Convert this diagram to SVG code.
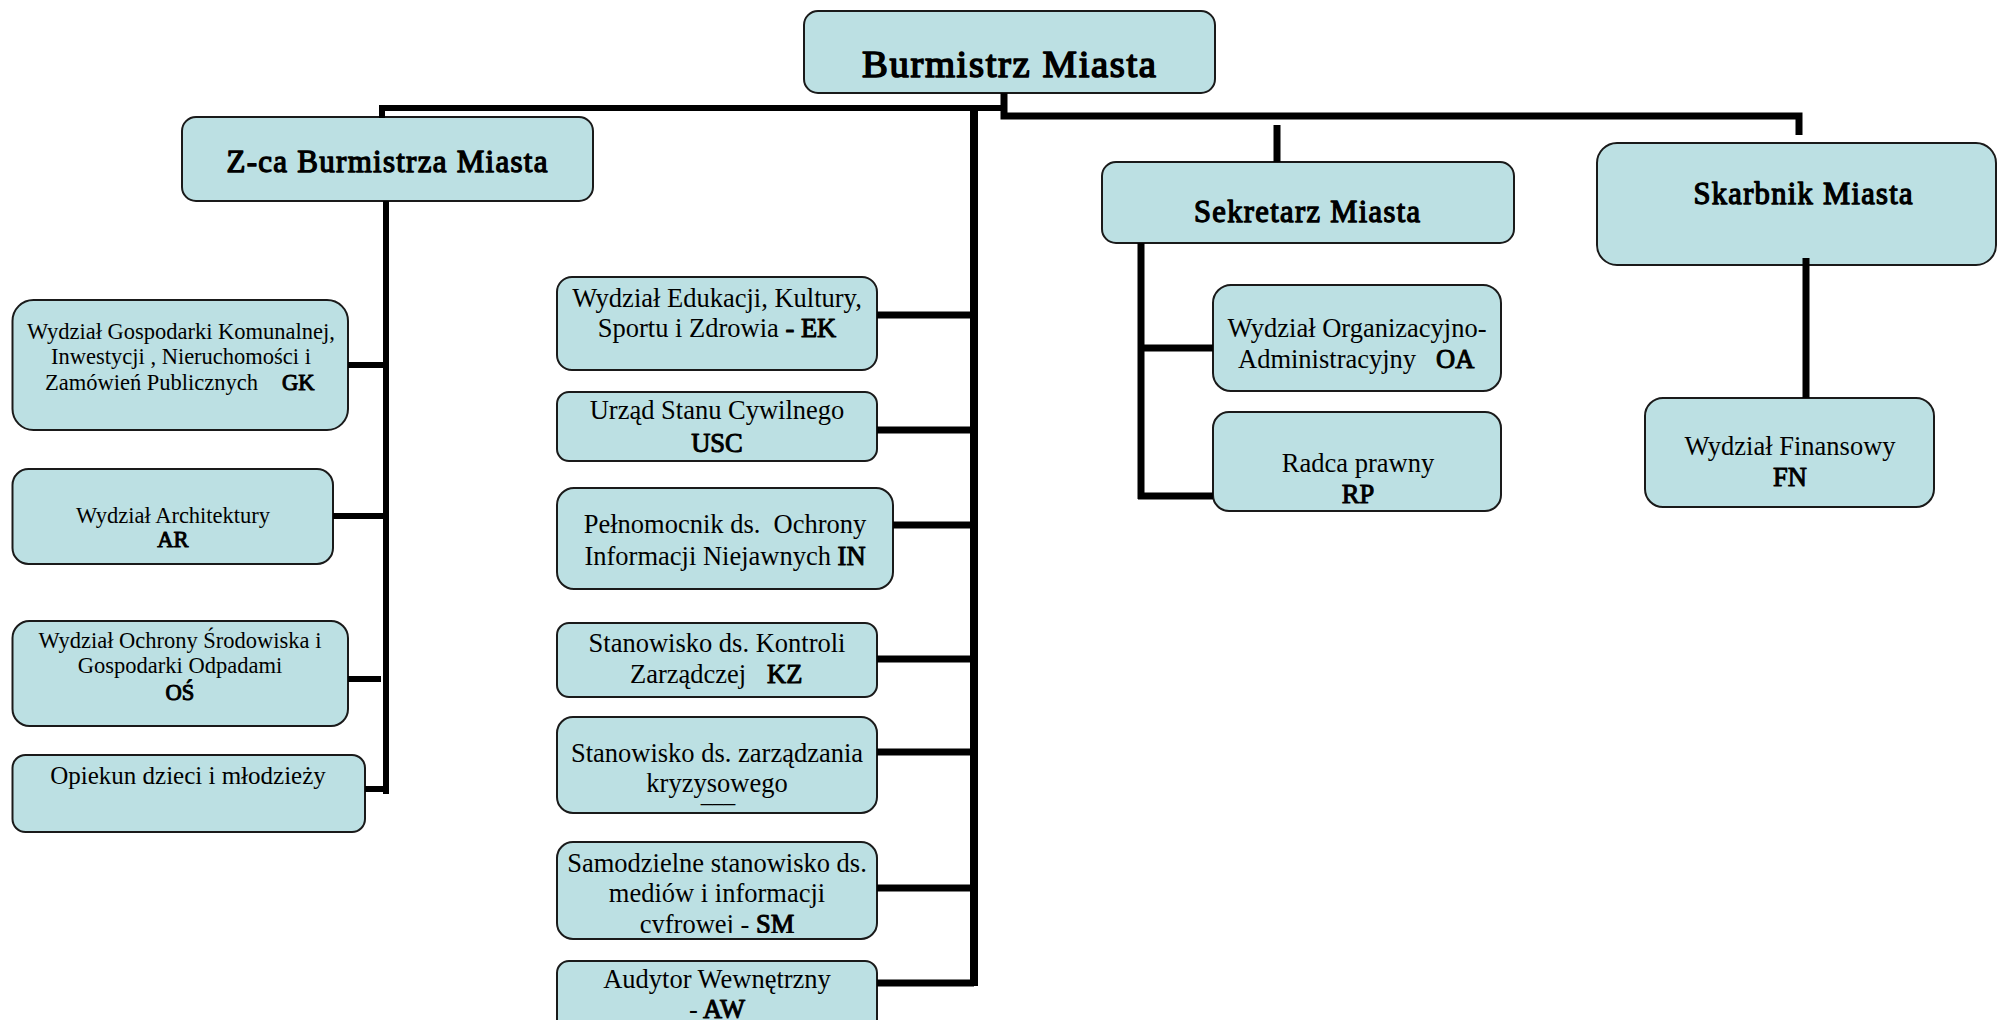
<svg xmlns="http://www.w3.org/2000/svg" width="1997" height="1020" viewBox="0 0 1997 1020">
<style>
.box{fill:#bce0e3;stroke:#1a1a1a;stroke-width:2}
.t{font-family:"Liberation Serif","Times New Roman",serif;fill:#000}
.c{text-anchor:middle}
.b{stroke:#000;stroke-width:1px;stroke-linejoin:round}
.h1{stroke:#000;stroke-width:1.6px;stroke-linejoin:round}
.h2{stroke:#000;stroke-width:1.3px;stroke-linejoin:round}
.s22{font-size:22.5px}
.s25{font-size:25px}
.s26{font-size:26.5px}
.ln{fill:none;stroke:#000;stroke-linecap:butt;stroke-linejoin:miter}
</style>
<defs>
<clipPath id="clipSM"><rect x="557" y="842" width="320" height="91"/></clipPath>
</defs>
<rect width="1997" height="1020" fill="#fff"/>

<g id="burmistrz">
<rect class="box" x="804" y="11" width="411" height="82" rx="14"/>
<text class="t c h1" x="1009" y="77" font-size="38.7" textLength="294" lengthAdjust="spacing">Burmistrz Miasta</text>
</g>

<g id="zca">
<rect class="box" x="182" y="117" width="411" height="84" rx="14"/>
<text class="t c h2" x="387" y="172" font-size="31" textLength="321" lengthAdjust="spacing">Z-ca Burmistrza Miasta</text>
</g>

<g id="sekretarz">
<rect class="box" x="1102" y="162" width="412" height="81" rx="14"/>
<text class="t c h2" x="1307" y="222" font-size="30.5" textLength="226" lengthAdjust="spacing">Sekretarz Miasta</text>
</g>

<g id="skarbnik">
<rect class="box" x="1597" y="143" width="399" height="122" rx="20"/>
<text class="t c h2" x="1803" y="204" font-size="30.5" textLength="219" lengthAdjust="spacing">Skarbnik Miasta</text>
</g>

<g id="gk">
<rect class="box" x="12.5" y="300" width="335.5" height="130" rx="21"/>
<text class="t c s22" x="181" y="339">Wydział Gospodarki Komunalnej,</text>
<text class="t c s22" x="181" y="364">Inwestycji , Nieruchomości i</text>
<text class="t s22" y="390"><tspan x="45">Zamówień Publicznych</tspan><tspan x="282" class="b">GK</tspan></text>
</g>

<g id="ar">
<rect class="box" x="12.5" y="469" width="320.5" height="95" rx="16"/>
<text class="t c s22" x="173" y="523">Wydział Architektury</text>
<text class="t c s22 b" x="173" y="547">AR</text>
</g>

<g id="os">
<rect class="box" x="12.5" y="621" width="335.5" height="105" rx="17"/>
<text class="t c s22" x="180" y="648">Wydział Ochrony Środowiska i</text>
<text class="t c s22" x="180" y="673">Gospodarki Odpadami</text>
<text class="t c s22 b" x="180" y="700">OŚ</text>
</g>

<g id="opiekun">
<rect class="box" x="12.5" y="755" width="352.5" height="77" rx="13"/>
<text class="t c s25" x="188" y="784">Opiekun dzieci i młodzieży</text>
</g>

<g id="ek">
<rect class="box" x="557" y="277" width="320" height="93" rx="15"/>
<text class="t c s26" x="717" y="307">Wydział Edukacji, Kultury,</text>
<text class="t c s26" x="717" y="337">Sportu i Zdrowia <tspan class="b">- EK</tspan></text>
</g>

<g id="usc">
<rect class="box" x="557" y="392" width="320" height="69" rx="12"/>
<text class="t c s26" x="717" y="419">Urząd Stanu Cywilnego</text>
<text class="t c s26 b" x="717" y="452">USC</text>
</g>

<g id="in">
<rect class="box" x="557" y="488" width="336" height="101" rx="17"/>
<text class="t c s26" x="725" y="533" xml:space="preserve">Pełnomocnik ds.  Ochrony</text>
<text class="t c s26" x="725" y="565">Informacji Niejawnych <tspan class="b">IN</tspan></text>
</g>

<g id="kz">
<rect class="box" x="557" y="623" width="320" height="74" rx="12"/>
<text class="t c s26" x="717" y="652">Stanowisko ds. Kontroli</text>
<text class="t s26" y="683"><tspan x="630">Zarządczej</tspan><tspan x="767" class="b">KZ</tspan></text>
</g>

<g id="kryzys">
<rect class="box" x="557" y="717" width="320" height="96" rx="16"/>
<text class="t c s26" x="717" y="762">Stanowisko ds. zarządzania</text>
<text class="t c s26" x="717" y="792">kryzysowego</text>
<text class="t c" x="718" y="802" font-size="23">___</text>
</g>

<g id="sm">
<rect class="box" x="557" y="842" width="320" height="97" rx="16"/>
<g clip-path="url(#clipSM)">
<text class="t c s26" x="717" y="872">Samodzielne stanowisko ds.</text>
<text class="t c s26" x="717" y="902">mediów i informacji</text>
<text class="t c s26" x="717" y="933">cyfrowej - <tspan class="b">SM</tspan></text>
</g>
</g>

<g id="aw">
<rect class="box" x="557" y="961" width="320" height="80" rx="12"/>
<text class="t c s26" x="717" y="988">Audytor Wewnętrzny</text>
<text class="t c s26" x="717" y="1018">- <tspan class="b">AW</tspan></text>
</g>

<g id="oa">
<rect class="box" x="1213" y="285" width="288" height="106" rx="18"/>
<text class="t c s26" x="1357" y="337">Wydział Organizacyjno-</text>
<text class="t s26" y="368"><tspan x="1238">Administracyjny</tspan><tspan x="1436" class="b">OA</tspan></text>
</g>

<g id="rp">
<rect class="box" x="1213" y="412" width="288" height="99" rx="16"/>
<text class="t c s26" x="1358" y="472">Radca prawny</text>
<text class="t c s26 b" x="1358" y="503">RP</text>
</g>

<g id="fn">
<rect class="box" x="1645" y="398" width="289" height="109" rx="18"/>
<text class="t c s26" x="1790" y="455">Wydział Finansowy</text>
<text class="t c s26 b" x="1790" y="486">FN</text>
</g>

<g id="connectors">
<path class="ln" stroke-width="6" d="M382,118 V108 H1004"/>
<path class="ln" stroke-width="7" d="M1004,93 V116 H1799 V135"/>
<path class="ln" stroke-width="7" d="M1277,125 V162"/>
<path class="ln" stroke-width="8" d="M974,108 V986"/>
<path class="ln" stroke-width="7" d="M877,315 H974 M877,430 H974 M893,525 H974 M877,659 H974 M877,752 H974 M877,888 H974 M877,983 H974"/>
<path class="ln" stroke-width="6" d="M386,201 V794"/>
<path class="ln" stroke-width="6" d="M348,365 H386 M333,516 H386 M348,679 H381 M365,789 H386"/>
<path class="ln" stroke-width="7" d="M1141,243 V499"/>
<path class="ln" stroke-width="7" d="M1141,348 H1213 M1138,496 H1213"/>
<path class="ln" stroke-width="7" d="M1806,258 V398"/>
</g>
</svg>
